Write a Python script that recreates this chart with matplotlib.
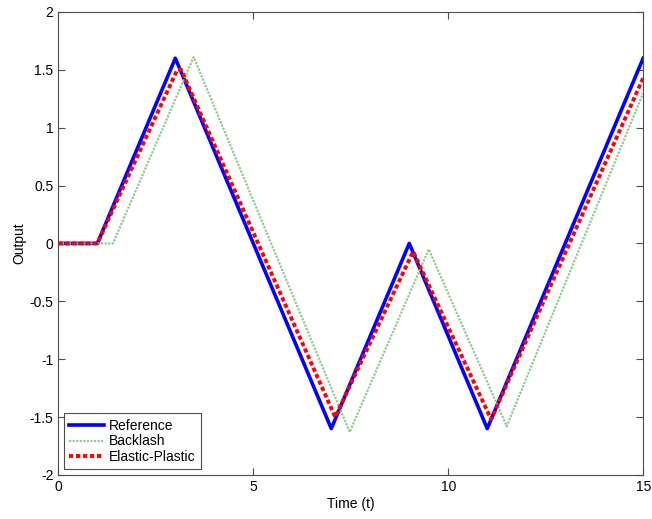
import matplotlib.pyplot as plt
import numpy as np

plt.rcParams['font.family'] = ['Liberation Sans', 'DejaVu Sans']

# corner points of each response (time, output)
t_ref = [0, 1, 3, 7, 9, 11, 15]
y_ref = [0, 0, 1.6, -1.6, 0, -1.6, 1.6]

t_backlash = [0, 1.4, 3.47, 7.47, 9.5, 11.5, 15]
y_backlash = [0, 0, 1.61, -1.63, -0.05, -1.58, 1.3]

t_elastic = [0, 1.0, 3.05, 3.15, 7.1, 9.1, 11.1, 15]
y_elastic = [0, 0, 1.5, 1.5, -1.5, -0.07, -1.52, 1.43]

fig = plt.figure(figsize=(6.52, 5.19), dpi=100)
ax = fig.add_axes([0.0895, 0.085, 0.897, 0.892])

ax.plot(t_ref, y_ref, color='#0000ff', lw=2.6, label='Reference')
ax.plot(t_backlash, y_backlash, color='#8fca8f', lw=1.6, ls=(0, (1, 0.6)), label='Backlash')
ax.plot(t_elastic, y_elastic, color='#ff0000', lw=2.8, ls=(0, (1.1, 0.7)), label='Elastic-Plastic')

ax.set_xlim(0, 15)
ax.set_ylim(-2, 2)
ax.set_xticks(np.arange(0, 16, 5))
ax.set_yticks(np.arange(-2, 2.01, 0.5))
ax.set_yticklabels(['-2', '-1.5', '-1', '-0.5', '0', '0.5', '1', '1.5', '2'])
ax.tick_params(direction='in', top=True, right=True, labelsize=10, length=5, color='0.3')
for s in ax.spines.values():
    s.set_color('0.3')

ax.set_xlabel('Time (t)', fontsize=10, labelpad=2)
ax.set_ylabel('Output', fontsize=10, labelpad=2)

leg = ax.legend(loc='lower left', fontsize=10, fancybox=False, framealpha=1,
                edgecolor='0.3', borderaxespad=0.4, handlelength=2.5,
                handletextpad=0.35, labelspacing=0.1, borderpad=0.4)
leg.get_frame().set_linewidth(0.8)

fig.savefig('out.png', dpi=100)
